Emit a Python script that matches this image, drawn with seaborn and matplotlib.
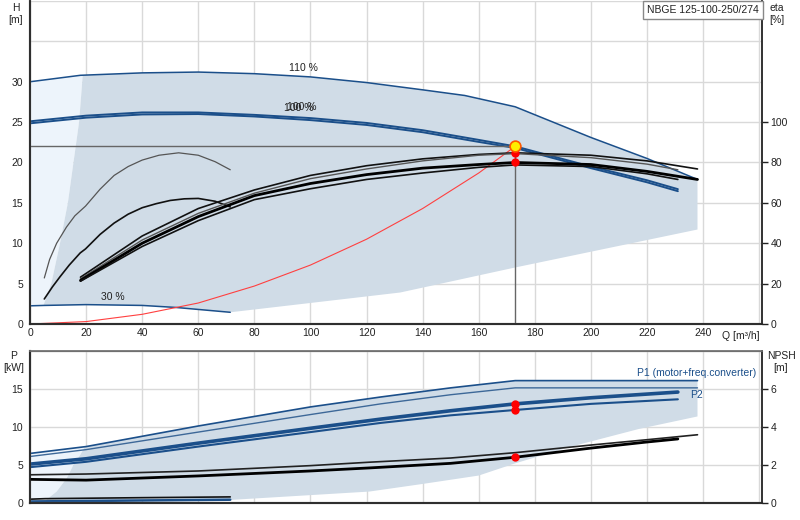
import matplotlib
matplotlib.use('Agg')
import matplotlib.pyplot as plt
import seaborn as sns

# ---- data ----
# head curves (H in m) vs flow Q (m3/h)
q_110 = [0, 18, 40, 60, 80, 100, 120, 140, 155, 173, 200, 220, 238]
h_110 = [30.0, 30.8, 31.1, 31.2, 31.0, 30.6, 29.9, 29.0, 28.3, 26.9, 23.1, 20.5, 17.9]

q_100 = [0, 20, 40, 60, 80, 100, 120, 140, 160, 173, 200, 220, 231]
h_100a = [25.1, 25.8, 26.2, 26.2, 25.9, 25.5, 24.9, 24.0, 22.8, 22.0, 19.5, 17.8, 16.7]
h_100b = [24.85, 25.55, 25.95, 26.0, 25.7, 25.25, 24.65, 23.75, 22.55, 21.8, 19.3, 17.55, 16.45]

q_30 = [0, 5, 20, 40, 52, 71.4]
h_30 = [2.25, 2.3, 2.4, 2.3, 2.05, 1.45]

# system curve
q_sys = [0, 20, 40, 60, 80, 100, 120, 140, 160, 173]
h_sys = [0, 0.3, 1.2, 2.6, 4.7, 7.3, 10.5, 14.3, 18.7, 22.0]

# duty point
q_duty = 173
h_duty = 22.0

# efficiency curves (eta in %)
q_eta_s1 = [5.1, 7, 9.5, 13, 16, 19.8, 25, 30, 35, 40, 46, 53, 60, 66, 71.4]
eta_s1 = [22.8, 32.0, 40.0, 48.0, 53.6, 58.4, 66.8, 73.6, 78.0, 81.2, 83.6, 84.8, 83.6, 80.4, 76.4]
q_eta_s2 = [5.1, 8, 10.7, 14, 17.9, 19.8, 25, 30, 35, 40, 45, 50, 55, 60, 66, 71.4]
eta_s2 = [12.4, 18.4, 23.4, 29.2, 35.2, 37.2, 44.4, 50.0, 54.4, 57.6, 59.6, 61.2, 62.0, 62.2, 60.8, 58.0]

q_eta_long = [18, 40, 60, 80, 100, 120, 140, 160, 173, 200, 220, 238]
q_eta_short = [18, 40, 60, 80, 100, 120, 140, 160, 173, 200, 220, 231]
eta_a = [23.2, 43.6, 57.2, 66.4, 73.6, 78.4, 81.8, 84.0, 84.8, 83.6, 80.8, 76.8]
eta_b = [22.4, 41.6, 54.8, 64.8, 72.0, 76.8, 80.8, 83.6, 84.4, 82.4, 79.2, 76.4]
eta_c = [21.6, 40.0, 53.2, 63.6, 69.6, 74.0, 77.2, 79.0, 80.0, 79.0, 75.6, 71.6]
eta_d = [21.2, 38.4, 51.2, 61.6, 67.0, 71.6, 74.8, 77.6, 78.8, 78.0, 74.4, 71.6]
eta_duty = [84.8, 80.0]

# operating area (head chart)
area_q = [4.8, 7.6, 10.7, 13.5, 15.5, 17.5, 18.8, 40, 60, 80, 100, 120, 140, 155, 173,
          200, 220, 238, 238, 173, 132, 90, 71.4, 52, 40, 20, 4.8]
area_h = [2.3, 5, 10, 15, 20, 25, 30.8, 31.1, 31.2, 31.0, 30.6, 29.9, 29.0, 28.3, 26.9,
          23.1, 20.5, 17.9, 11.7, 7.0, 3.9, 2.2, 1.45, 2.05, 2.3, 2.4, 2.3]
light_q = [0, 4.8, 7.6, 10.7, 13.5, 15.5, 17.5, 18.8, 0]
light_h = [2.25, 2.3, 5, 10, 15, 20, 25, 30.8, 30.0]

# power curves (P in kW)
q_pmax = [0, 20, 60, 100, 125, 150, 173, 238]
p1_max = [6.5, 7.4, 10.1, 12.6, 13.9, 15.1, 16.05, 16.05]
p2_max = [6.1, 7.0, 9.3, 11.6, 13.0, 14.2, 15.1, 15.1]
q_p = [0, 20, 60, 100, 125, 150, 173, 200, 231]
p1 = [5.1, 5.8, 7.85, 9.8, 11.0, 12.1, 13.0, 13.8, 14.55]
p2 = [4.7, 5.4, 7.4, 9.3, 10.5, 11.5, 12.2, 13.0, 13.6]
p_duty = [13.0, 12.2]
q_low = [0, 5.4, 40, 71.4]
p_low_black = [0.5, 0.57, 0.7, 0.8]
p_low_blue = [0.2, 0.22, 0.33, 0.43]

# NPSH curves (m)
q_n1 = [0, 20, 60, 100, 121, 150, 173, 200, 220, 238]
npsh1 = [1.48, 1.52, 1.68, 1.96, 2.14, 2.36, 2.64, 3.04, 3.32, 3.58]
q_n2 = [0, 20, 60, 100, 121, 150, 173, 200, 220, 231]
npsh2 = [1.24, 1.2, 1.42, 1.68, 1.84, 2.08, 2.4, 2.88, 3.2, 3.36]
npsh_duty = 2.4

# operating area (power chart)
parea_q = [5.4, 9.5, 13.1, 15.5, 17.9, 19.6, 60, 100, 125, 150, 173, 238, 238, 217, 193,
           173, 160, 140, 121, 71.4, 40, 5.4]
parea_p = [0.3, 1.5, 3.25, 5.0, 6.3, 7.4, 10.1, 12.6, 13.9, 15.1, 16.05, 16.05, 11.35, 9.7,
           7.4, 5.2, 3.6, 2.5, 1.5, 0.4, 0.35, 0.3]
plight_q = [0, 5.4, 9.5, 13.1, 15.5, 17.9, 19.6, 0]
plight_p = [0.2, 0.3, 1.5, 3.25, 5.0, 6.3, 7.4, 6.5]

# ---- style ----
sns.set_theme(style='white')
plt.rcParams['font.family'] = ['Liberation Sans', 'DejaVu Sans']
FS = 7.5

BLUE = '#1b4f8a'
AREA = '#d0dce7'
LIGHT = '#edf4fb'
GRID = '#d9d9d9'
SPINE = '#707070'
TXT = '#222222'

fig = plt.figure(figsize=(8, 5.2), dpi=100)
ax = fig.add_axes([30 / 800, 196 / 520, 732 / 800, 323 / 520])
axp = fig.add_axes([30 / 800, 17 / 520, 732 / 800, 152.5 / 520])


def frame(a, ylim, yticks, ylabels):
    a.set_xlim(0, 261)
    a.set_ylim(*ylim)
    a.set_xticks(range(0, 261, 20))
    a.set_yticks(yticks)
    a.set_yticklabels(ylabels)
    a.grid(True, color=GRID, lw=1)
    a.set_axisbelow(True)
    for s in ['left', 'bottom']:
        a.spines[s].set_color(SPINE)
        a.spines[s].set_linewidth(1.6)
    a.spines['top'].set_color(SPINE)
    a.spines['top'].set_linewidth(0.8)
    a.spines['right'].set_color('#333333')
    a.tick_params(axis='y', length=0, pad=5, labelsize=FS, colors=TXT)


def line(a, x, y, color, lw):
    sns.lineplot(x=x, y=y, ax=a, color=color, lw=lw, sort=False, estimator=None)


# ---- head chart ----
frame(ax, (0, 40), range(0, 41, 5), ['0', '5', '10', '15', '20', '25', '30', '', ''])
ax.spines['top'].set_visible(False)
ax.tick_params(axis='x', length=0, pad=3, labelsize=FS, colors=TXT)
ax.set_xticklabels([str(v) for v in range(0, 241, 20)] + [''])

ax.fill(light_q, light_h, color=LIGHT, lw=0, zorder=1)
ax.fill(area_q, area_h, color=AREA, lw=0, zorder=1)

line(ax, q_110, h_110, BLUE, 1.1)
line(ax, q_100, h_100a, BLUE, 1.4)
line(ax, q_100, h_100b, BLUE, 1.4)
line(ax, q_30, h_30, BLUE, 1.1)
line(ax, q_sys, h_sys, '#ff4040', 0.8)

ax.plot([0, q_duty], [h_duty, h_duty], color='#666666', lw=1, zorder=2)
ax.plot([q_duty, q_duty], [0, h_duty], color='#666666', lw=1, zorder=2)

ax.text(97.5, 31.7, '110 %', ha='center', va='center', fontsize=FS, color=TXT)
ax.text(95.8, 26.8, '100 %', ha='center', va='center', fontsize=FS, color=TXT)
ax.text(96.8, 26.9, '100 %', ha='center', va='center', fontsize=FS, color=TXT)
ax.text(29.5, 3.4, '30 %', ha='center', va='center', fontsize=FS, color=TXT)
ax.text(260, -0.9, 'Q [m³/h]', ha='right', va='top', fontsize=FS, color=TXT)

# efficiency on the right axis
axe = ax.twinx()
axe.set_ylim(0, 160)
axe.set_yticks(range(0, 101, 20))
axe.tick_params(axis='y', length=4, width=1, pad=2, labelsize=FS, colors=TXT)
axe.spines['right'].set_color('#333333')
axe.spines['top'].set_visible(False)
axe.grid(False)
line(axe, q_eta_s1, eta_s1, '#555555', 0.9)
line(axe, q_eta_s2, eta_s2, '#111111', 1.2)
line(axe, q_eta_long, eta_a, '#111111', 1.2)
line(axe, q_eta_short, eta_b, '#555555', 1.0)
line(axe, q_eta_long, eta_c, '#000000', 2.0)
line(axe, q_eta_short, eta_d, '#111111', 1.2)
axe.scatter([q_duty, q_duty], eta_duty, s=36, color='red', zorder=5, lw=0)
axe.scatter([q_duty], [h_duty * 4], s=60, color='#ffee00', edgecolor='#ff5a00', lw=1.2, zorder=6)

fig.text(703 / 800, 1 - 10 / 520, 'NBGE 125-100-250/274', ha='center', va='center', fontsize=FS,
         color=TXT, bbox=dict(boxstyle='square,pad=0.35', fc='white', ec='#888888', lw=1))

fig.text(16 / 800, 1 - 3 / 520, 'H\n[m]', ha='center', va='top', fontsize=FS, linespacing=1.2, color=TXT)
fig.text(777 / 800, 1 - 3 / 520, 'eta\n[%]', ha='center', va='top', fontsize=FS, linespacing=1.2, color=TXT)

# ---- power chart ----
frame(axp, (0, 20), range(0, 21, 5), ['0', '5', '10', '15', ''])
axp.tick_params(axis='x', length=0, labelbottom=False)

axp.fill(plight_q, plight_p, color=LIGHT, lw=0, zorder=1)
axp.fill(parea_q, parea_p, color=AREA, lw=0, zorder=1)

line(axp, q_pmax, p1_max, BLUE, 1.2)
line(axp, q_pmax, p2_max, '#3d6898', 1.0)
line(axp, q_p, p1, BLUE, 2.6)
line(axp, q_p, p2, BLUE, 1.5)
line(axp, q_low, p_low_black, '#111111', 1.2)
line(axp, q_low, p_low_blue, BLUE, 1.8)
axp.scatter([q_duty, q_duty], p_duty, s=36, color='red', zorder=5, lw=0)

axp.text(216.5, 17.1, 'P1 (motor+freq.converter)', ha='left', va='center', fontsize=FS, color=BLUE)
axp.text(235.5, 14.2, 'P2', ha='left', va='center', fontsize=FS, color=BLUE)

axn = axp.twinx()
axn.set_ylim(0, 8)
axn.set_yticks(range(0, 7, 2))
axn.tick_params(axis='y', length=4, width=1, pad=2, labelsize=FS, colors=TXT)
axn.spines['right'].set_color('#333333')
axn.spines['top'].set_color(SPINE)
axn.grid(False)
line(axn, q_n1, npsh1, '#222222', 1.2)
line(axn, q_n2, npsh2, '#000000', 2.0)
axn.scatter([q_duty], [npsh_duty], s=36, color='red', zorder=5, lw=0)

fig.text(14 / 800, 1 - 351 / 520, 'P\n[kW]', ha='center', va='top', fontsize=FS, linespacing=1.2, color=TXT)
fig.text(781 / 800, 1 - 351 / 520, 'NPSH\n[m]', ha='center', va='top', fontsize=FS, linespacing=1.2, color=TXT)

fig.savefig('out.png', dpi=100)
